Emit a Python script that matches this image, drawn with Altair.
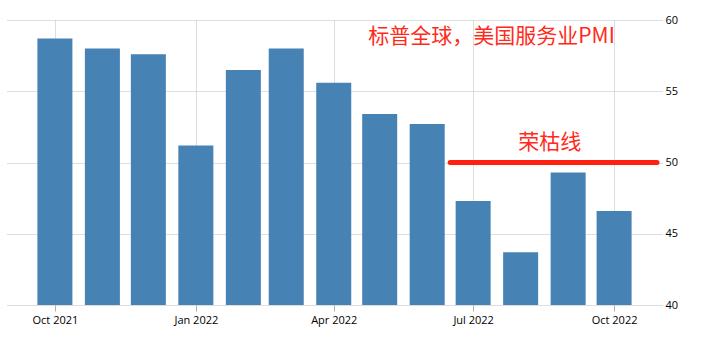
import altair as alt
import pandas as pd

months = ["2021-10-01", "2021-11-01", "2021-12-01", "2022-01-01", "2022-02-01",
          "2022-03-01", "2022-04-01", "2022-05-01", "2022-06-01", "2022-07-01",
          "2022-08-01", "2022-09-01", "2022-10-01"]
pmi = [58.7, 58.0, 57.6, 51.2, 56.5, 58.0, 55.6, 53.4, 52.7, 47.3, 43.7, 49.3, 46.6]

tick_dates = [(2021, 10), (2022, 1), (2022, 4), (2022, 7), (2022, 10)]
y_ticks = [40, 45, 50, 55, 60]
y_floor = 40

line_start = "2022-06-16"
line_end = "2022-10-29"
line_level = 50

title_text = "标普全球，美国服务业PMI"
title_date = "2022-07-13"
title_level = 58.8
line_label = "荣枯线"
line_label_date = "2022-08-20"
line_label_level = 51.4

bars_df = pd.DataFrame({"date": months, "value": pmi, "base": [y_floor] * len(pmi)})
line_df = pd.DataFrame({"start": [line_start], "end": [line_end], "value": [line_level]})
text_df = pd.DataFrame({
    "date": [title_date, line_label_date],
    "value": [title_level, line_label_level],
    "label": [title_text, line_label],
})

x_scale = alt.Scale(type="utc",
                    domain=[alt.DateTime(year=2021, month=9, date=3, utc=True),
                            alt.DateTime(year=2022, month=10, date=29, utc=True)])
y_scale = alt.Scale(domain=[40, 60], nice=False, zero=False)

x_axis = alt.Axis(
    title=None,
    values=[alt.DateTime(year=y, month=m, date=1, utc=True) for y, m in tick_dates],
    labelExpr="utcFormat(datum.value, '%b %Y')",
    grid=True, gridColor="#bdbdbd", gridDash=[1, 1],
    domain=False, tickColor="#b0b0b0", tickSize=6, labelPadding=3,
    labelFont="Open Sans", labelFontSize=11, labelColor="#000000",
)
y_axis = alt.Axis(
    title=None, orient="right", values=y_ticks,
    grid=True, gridColor="#bdbdbd", gridDash=[1, 1],
    domain=False, ticks=False, labelPadding=3,
    labelFont="Open Sans", labelFontSize=11, labelColor="#000000",
)

bars = alt.Chart(bars_df).mark_bar(color="#4682b4", width=35).encode(
    x=alt.X("date:T", scale=x_scale, axis=x_axis),
    y=alt.Y("value:Q", scale=y_scale, axis=y_axis),
    y2="base:Q",
)

rule = alt.Chart(line_df).mark_rule(color="#ff2010", strokeWidth=5, strokeCap="round").encode(
    x=alt.X("start:T", scale=x_scale, axis=x_axis),
    x2="end:T",
    y=alt.Y("value:Q", scale=y_scale, axis=y_axis),
)

texts = alt.Chart(text_df).mark_text(
    color="#ff2a1a", font="Noto Sans CJK SC", fontSize=21, align="center", baseline="middle"
).encode(
    x=alt.X("date:T", scale=x_scale, axis=x_axis),
    y=alt.Y("value:Q", scale=y_scale, axis=y_axis),
    text="label:N",
)

chart = alt.layer(bars, rule, texts).properties(
    width=655, height=285,
    padding={"left": 7, "top": 20, "right": 39, "bottom": 38},
    autosize=alt.AutoSizeParams(type="none"),
).configure_view(stroke=None)

chart.save("out.html", embed_options={"renderer": "svg", "actions": False})
